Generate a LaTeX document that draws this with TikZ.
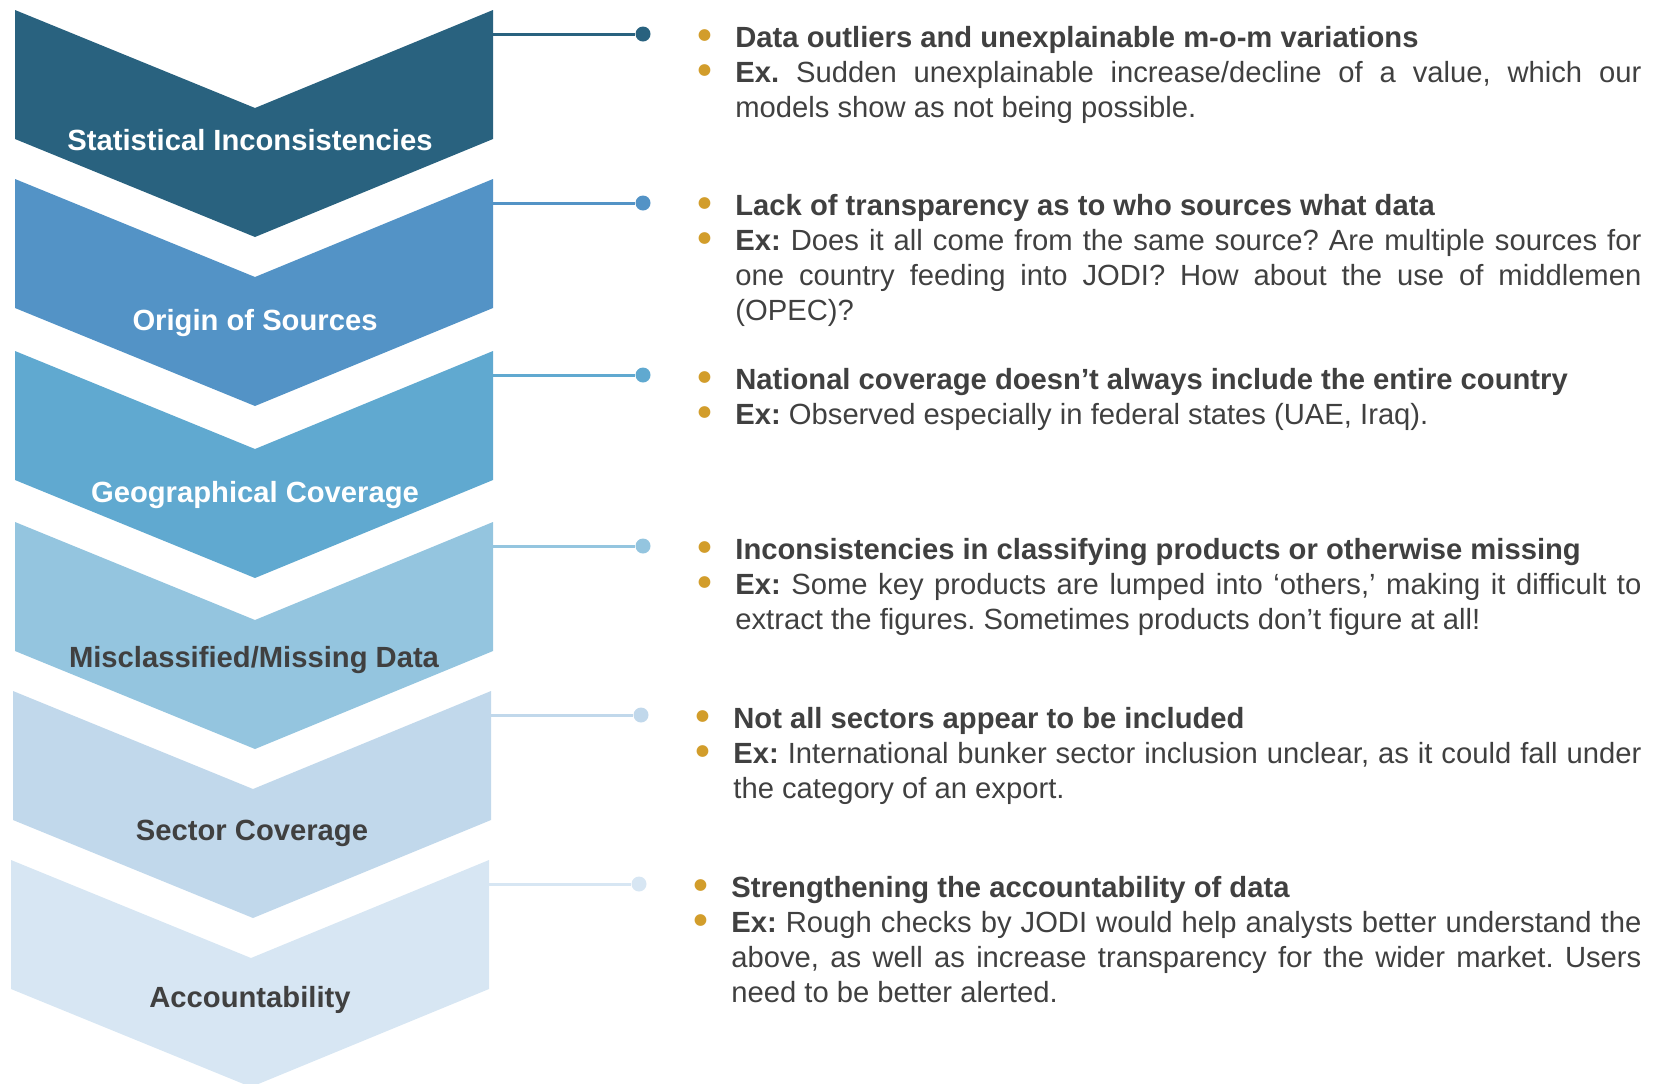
\documentclass[tikz,border=0pt]{standalone}
\usepackage{fontspec}
\setmainfont{Liberation Sans}
\newfontfamily\dotfont{DejaVu Sans}
\setlength{\parindent}{0pt}
\frenchspacing

\definecolor{stepA}{HTML}{29627F}
\definecolor{stepB}{HTML}{5393C6}
\definecolor{stepC}{HTML}{60A9D0}
\definecolor{stepD}{HTML}{94C5DF}
\definecolor{stepE}{HTML}{C1D8EB}
\definecolor{stepF}{HTML}{D7E6F3}
\definecolor{bulletgold}{HTML}{D29D2B}
\definecolor{textgray}{HTML}{404040}

\newcommand{\bul}{\leavevmode\llap{\textcolor{bulletgold}{\raisebox{4.2pt}{\dotfont\fontsize{7.7}{7.7}\selectfont ●}}\hspace{12pt}}}
\newcommand{\firstline}{\rule{0pt}{11pt}}

\begin{document}
\begin{tikzpicture}[x=0.5pt, y=-0.5pt,
    chevlabel/.style={font=\fontsize{14.6}{17.5}\selectfont\bfseries, inner sep=0pt},
    dot/.style={circle, fill=#1, inner sep=0pt, minimum size=7.5pt},
    link/.style={draw=#1, line width=1.5pt},
    issue/.style={anchor=north west, inner sep=0pt, text width=#1, align=justify,
      font=\fontsize{14.6}{17.5}\selectfont, text=textgray}]

  \useasboundingbox (0,0) rectangle (1660,1083);
  \clip (0,0) rectangle (1660,1083);

  % chevrons, top to bottom
  \foreach \t/\s/\c/\n in {10/0/stepA/a, 179/0/stepB/b, 351/0/stepC/c,
                           522/0/stepD/d, 691/-2/stepE/e, 860/-4/stepF/f} {
    \fill[\c] (15+\s,\t) -- (255+\s,\t+98) -- (493+\s,\t) -- (493+\s,\t+129)
      -- (255+\s,\t+227) -- (15+\s,\t+129) -- cycle;
    \coordinate (\n) at (493+\s,\t+24);
    \node[dot=\c] (\n-dot) at (643+\s,\t+24) {};
    \draw[link=\c] (\n) -- (\n-dot);
  }

  % chevron labels
  \node[chevlabel, text=white]    (lblA) at (250,140) {Statistical Inconsistencies};
  \node[chevlabel, text=white]    (lblB) at (255,323) {Origin of Sources};
  \node[chevlabel, text=white]    (lblC) at (255,495) {Geographical Coverage};
  \node[chevlabel, text=textgray] (lblD) at (254,660) {Misclassified/Missing Data};
  \node[chevlabel, text=textgray] (lblE) at (252,833) {Sector Coverage};
  \node[chevlabel, text=textgray] (lblF) at (250,1000) {Accountability};

  % issues
  \node[issue=453pt] (txtA) at (735,25) {%
    \bul\firstline\textbf{Data outliers and unexplainable m-o-m variations}\par
    \bul\textbf{Ex.} Sudden unexplainable increase/decline of a value, which our\linebreak
    models show as not being possible.};
  \node[issue=453pt] (txtB) at (735,193) {%
    \bul\firstline\textbf{Lack of transparency as to who sources what data}\par
    \bul\textbf{Ex:} Does it all come from the same source? Are multiple sources for\linebreak
    one country feeding into JODI? How about the use of middlemen\linebreak
    (OPEC)?};
  \node[issue=453pt] (txtC) at (735,367) {%
    \bul\firstline\textbf{National coverage doesn’t always include the entire country}\par
    \bul\textbf{Ex:} Observed especially in federal states (UAE, Iraq).};
  \node[issue=453pt] (txtD) at (735,537) {%
    \bul\firstline\textbf{Inconsistencies in classifying products or otherwise missing}\par
    \bul\textbf{Ex:} Some key products are lumped into ‘others,’ making it difficult to\linebreak
    extract the figures. Sometimes products don’t figure at all!};
  \node[issue=454pt] (txtE) at (733,706) {%
    \bul\firstline\textbf{Not all sectors appear to be included}\par
    \bul\textbf{Ex:} International bunker sector inclusion unclear, as it could fall under\linebreak
    the category of an export.};
  \node[issue=455pt] (txtF) at (731,875) {%
    \bul\firstline\textbf{Strengthening the accountability of data}\par
    \bul\textbf{Ex:} Rough checks by JODI would help analysts better understand the\linebreak
    above, as well as increase transparency for the wider market. Users\linebreak
    need to be better alerted.};

\end{tikzpicture}
\end{document}
